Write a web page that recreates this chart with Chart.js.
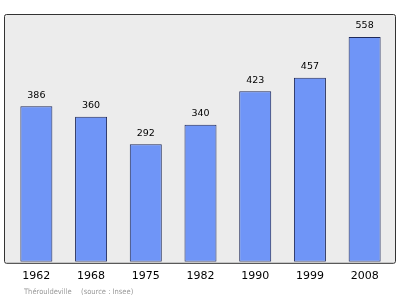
<!DOCTYPE html>
<html>
<head>
<meta charset="utf-8">
<script src="https://cdn.jsdelivr.net/npm/chart.js@4"></script>
<style>
  html, body { margin: 0; padding: 0; background: #fff; }
  #wrap { width: 400px; height: 299px; }
</style>
</head>
<body>
<div id="wrap"><canvas id="popChart"></canvas></div>
<script>
// ---------- data ----------
const years = ['1962', '1968', '1975', '1982', '1990', '1999', '2008'];
const population = [386, 360, 292, 340, 423, 457, 558];
const yMax = 615;

// fond gris + cadre + étiquettes + source
const framePlugin = {
  id: 'frame',
  beforeDraw(chart) {
    const { ctx, chartArea: a } = chart;
    const x0 = 4.5, y0 = 14.5, x1 = 395.5, y1 = a.bottom + 1.5;
    ctx.save();
    ctx.fillStyle = '#ececec';
    ctx.strokeStyle = '#333';
    ctx.lineWidth = 1;
    ctx.beginPath();
    ctx.roundRect(x0, y0, x1 - x0, y1 - y0, 2);
    ctx.fill();
    ctx.stroke();
    ctx.restore();
  },
  afterDatasetsDraw(chart) {
    const { ctx } = chart;
    const meta = chart.getDatasetMeta(0);
    ctx.save();
    ctx.fillStyle = '#000';
    ctx.font = '9.5px "DejaVu Sans", sans-serif';
    ctx.textAlign = 'center';
    ctx.textBaseline = 'middle';
    meta.data.forEach((bar, i) => {
      ctx.fillText(population[i], bar.x, bar.y - 11);
    });
    // source en bas
    ctx.fillStyle = '#999';
    ctx.font = '7.5px "DejaVu Sans Condensed", "DejaVu Sans", sans-serif';
    ctx.textAlign = 'left';
    ctx.fillText('Thérouldeville', 24, 292);
    ctx.fillText('(source : Insee)', 81, 292);
    ctx.restore();
  }
};

new Chart(document.getElementById('popChart'), {
  type: 'bar',
  data: {
    labels: years,
    datasets: [{
      data: population,
      backgroundColor: '#6f95f7',
      borderColor: '#1f2a5a',
      borderWidth: 1,
      borderSkipped: false,
      barPercentage: 0.585,
      categoryPercentage: 1
    }]
  },
  options: {
    responsive: true,
    maintainAspectRatio: false,
    animation: false,
    layout: { padding: { left: 9, right: 8, top: 14, bottom: 8 } },
    plugins: {
      legend: { display: false },
      title: { display: false },
      tooltip: { enabled: false }
    },
    scales: {
      x: {
        grid: { display: false, drawTicks: false },
        border: { display: false },
        ticks: {
          color: '#000',
          padding: 8,
          font: { family: '"DejaVu Sans", sans-serif', size: 11 }
        }
      },
      y: {
        display: false,
        min: 0,
        max: yMax
      }
    }
  },
  plugins: [framePlugin]
});
</script>
</body>
</html>
